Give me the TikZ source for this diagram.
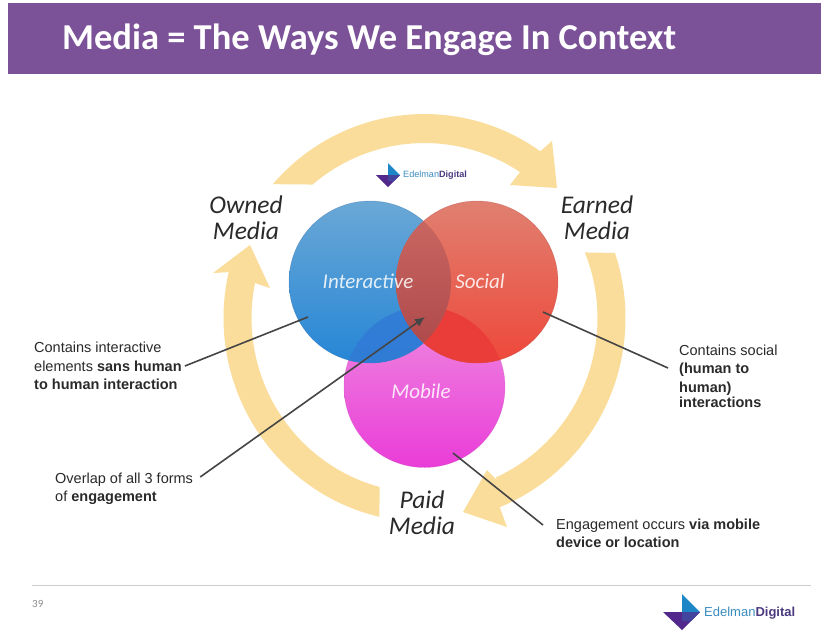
\documentclass[tikz,border=0pt]{standalone}
\usepackage{fontspec}
\setmainfont{Liberation Sans}
\newfontfamily\carlito{Carlito}
\usetikzlibrary{arrows.meta,calc,shadings}
\definecolor{barpurple}{HTML}{7B5198}
\definecolor{ringcol}{HTML}{FBDD9B}
\definecolor{linecol}{HTML}{454545}
\definecolor{txtcol}{HTML}{2A2A2A}
\definecolor{logoblue}{HTML}{1C86C6}
\definecolor{logopurple}{HTML}{52288C}
\definecolor{logotxtb}{HTML}{3A8DC0}
\definecolor{logotxtp}{HTML}{4B3A80}
\definecolor{redpink}{HTML}{EA3C38}
\tikzset{
  venn/.style={circle,inner sep=0pt,minimum size=#1},
  medialabel/.style={font=\carlito\itshape\fontsize{25.5}{26}\selectfont,text=txtcol,align=center,inner sep=0pt},
  venntext/.style={font=\carlito\itshape\fontsize{21}{21}\selectfont,text=white,text opacity=.85,inner sep=0pt},
  callout/.style={font=\fontsize{14.5}{18.2}\selectfont,text=txtcol,align=left,inner sep=0pt,anchor=west},
  leader/.style={draw=linecol,line width=1.6pt},
  ringarrow/.style={fill=ringcol,draw=none},
}
\begin{document}
\begin{tikzpicture}[x=1pt,y=-1pt]
\useasboundingbox (0,0) rectangle (821,633);
\fill[white] (0,0) rectangle (821,633);
% title bar
\fill[barpurple] (8,3) rectangle (821,74);
\node[font=\carlito\bfseries\fontsize{36.5}{36.5}\selectfont,text=white,anchor=base west,inner sep=0pt] (title) at (62,49.5) {Media = The Ways We Engage In Context};
% ring arrows
\fill[ringarrow] plot[domain=221:305.2,samples=40] ({424.5+201*cos(\x)},{318+204*sin(\x)})
  -- (552,141) -- (557,188) -- (510,185) -- (520,172)
  -- plot[domain=303.5:229.7,samples=40] ({424.5+173*cos(\x)},{318+175*sin(\x)}) -- cycle;
\fill[ringarrow] plot[domain=-18.6:68,samples=40] ({424.5+201*cos(\x)},{318+204*sin(\x)})
  -- (507,527) -- (463,512) -- (487,470) -- (497,480)
  -- plot[domain=65.6:-22,samples=40] ({424.5+173*cos(\x)},{318+175*sin(\x)}) -- cycle;
\fill[ringarrow] plot[domain=103:193,samples=40] ({424.5+201*cos(\x)},{318+204*sin(\x)})
  -- (213,273) -- (250,245) -- (270,288) -- (252,282)
  -- plot[domain=191.7:105,samples=40] ({424.5+173*cos(\x)},{318+175*sin(\x)}) -- cycle;
% venn circles
\node[venn=161pt,top color={rgb,255:red,238;green,140;blue,224},bottom color={rgb,255:red,234;green,60;blue,216},draw={rgb,255:red,200;green,90;blue,190},draw opacity=.5] (mobile) at (424.5,387) {};
\node[venn=162pt,top color={rgb,255:red,106;green,168;blue,214},bottom color={rgb,255:red,38;green,134;blue,214},draw={rgb,255:red,50;green,110;blue,170},draw opacity=.5] (inter) at (370,282) {};
\node[venn=162pt,top color={rgb,255:red,224;green,128;blue,112},bottom color={rgb,255:red,238;green,72;blue,58},draw={rgb,255:red,180;green,70;blue,70},draw opacity=.5] (social) at (477,282) {};
% overlaps
\begin{scope}
\clip (inter.center) circle (81pt);
\shade[top color={rgb,255:red,50;green,125;blue,214},bottom color={rgb,255:red,44;green,122;blue,212}] (mobile.center) circle (80pt);
\end{scope}
\begin{scope}
\clip (social.center) circle (81pt);
\fill[redpink] (mobile.center) circle (80pt);
\end{scope}
\begin{scope}
\clip (inter.center) circle (81pt);
\shade[top color={rgb,255:red,205;green,106;blue,100},bottom color={rgb,255:red,170;green,70;blue,72}] (social.center) circle (81pt);
\end{scope}
\node[venntext] (tinter) at (368,281) {Interactive};
\node[venntext] (tsocial) at (480,281) {Social};
\node[venntext] (tmobile) at (421,391) {Mobile};
% media labels
\node[medialabel] (owned) at (246,218) {Owned\\Media};
\node[medialabel] (earned) at (597,218) {Earned\\Media};
\node[medialabel] (paid) at (422,513) {Paid\\Media};
% callouts
\node[callout] (c1) at (34,366) {Contains interactive\\elements \textbf{sans human}\\\textbf{to human interaction}};
\node[callout] (c2) at (55,489) {Overlap of all 3 forms\\of \textbf{engagement}};
\node[callout] (c3) at (679,376) {Contains social\\[0.3pt]\textbf{(human to}\\[0.3pt]\textbf{human)}\\[-3pt]\textbf{interactions}};
\node[callout] (c4) at (556,533.5) {Engagement occurs \textbf{via mobile}\\\textbf{device or location}};
% connector ends
\coordinate (e1) at ($(inter.center)+(-62,35)$);
\coordinate (e2) at ($(social.center)+(-52,35)$);
\coordinate (e3) at ($(social.center)+(66,30)$);
\coordinate (e4) at ($(mobile.center)+(28.5,66)$);
\draw[leader] ($(c1.east)+(3,0)$) -- (e1);
\draw[leader,-{Latex[length=10pt,width=9pt]}] ($(c2.east)+(7,-12)$) -- (e2);
\draw[leader] ($(c3.west)+(-11,-8)$) -- (e3);
\draw[leader] ($(c4.west)+(-13,-8.5)$) -- (e4);
% footer
\draw[draw={rgb,255:red,205;green,205;blue,205},line width=.9pt] (32,585) -- (811,585);
\node[font=\carlito\fontsize{11}{11}\selectfont,text=black!45,anchor=west,inner sep=0pt] (pageno) at (32,604) {39};
% bottom logo
\fill[logoblue] (682,594) -- (700,612) -- (682,612) -- cycle;
\fill[logopurple] (663,612) -- (700,612) -- (682,630) -- cycle;
\fill[logopurple!70!logoblue] (682,612) -- (700,612) -- (691,621) -- (682,621) -- cycle;
\node[font=\fontsize{13}{13}\selectfont,anchor=west,inner sep=0pt] (logotext) at (704,613) {\textcolor{logotxtb}{Edelman}\textcolor{logotxtp}{\textbf{Digital}}};
% top logo
\fill[logoblue] (388,163) -- (400,175) -- (388,175) -- cycle;
\fill[logopurple] (376,175) -- (400,175) -- (388,187) -- cycle;
\fill[logopurple!70!logoblue] (388,175) -- (400,175) -- (394,181) -- (388,181) -- cycle;
\node[font=\fontsize{9.1}{9.1}\selectfont,anchor=west,inner sep=0pt] (logotop) at (403,175) {\textcolor{logotxtb}{Edelman}\textcolor{logotxtp}{\textbf{Digital}}};
\end{tikzpicture}
\end{document}
